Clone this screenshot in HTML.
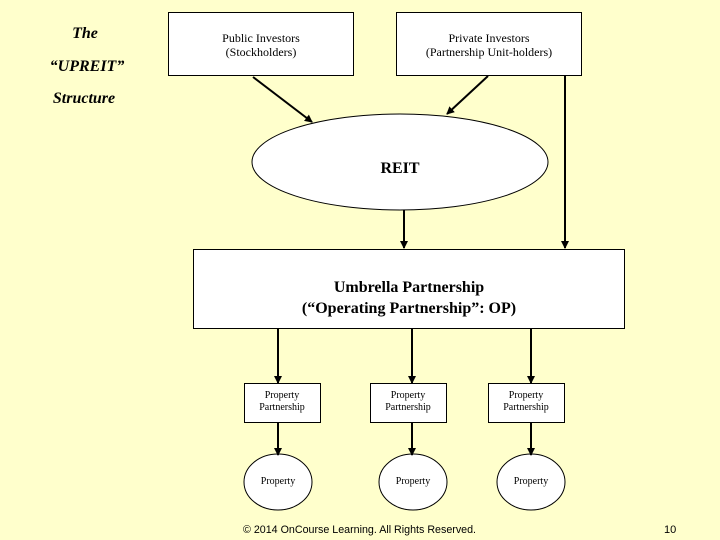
<!DOCTYPE html>
<html><head><meta charset="utf-8"><style>
html,body{margin:0;padding:0;background:#FFFFCC;}
svg{display:block}
</style></head><body>
<svg width="720" height="540" viewBox="0 0 720 540" xmlns="http://www.w3.org/2000/svg">
<defs>
<marker id="a" markerWidth="8" markerHeight="8" refX="7" refY="4" orient="auto" markerUnits="userSpaceOnUse">
<path d="M0,0 L8,4 L0,8 z" fill="#000"/>
</marker>
</defs>
<rect width="720" height="540" fill="#FFFFCC"/>
<g font-family="Liberation Serif, serif" font-weight="bold" font-style="italic" font-size="16" fill="#000" text-anchor="middle">
<text x="85" y="38">The</text>
<text x="87" y="71">“UPREIT”</text>
<text x="84" y="103">Structure</text>
</g>
<g fill="#fff" stroke="#000" stroke-width="1">
<rect x="168.5" y="12.5" width="185" height="63"/>
<rect x="396.5" y="12.5" width="185" height="63"/>
<ellipse cx="400" cy="162" rx="148" ry="48"/>
<rect x="193.5" y="249.5" width="431" height="79"/>
<rect x="244.5" y="383.5" width="76" height="39"/>
<rect x="370.5" y="383.5" width="76" height="39"/>
<rect x="488.5" y="383.5" width="76" height="39"/>
<ellipse cx="278" cy="482" rx="34" ry="28"/>
<ellipse cx="413" cy="482" rx="34" ry="28"/>
<ellipse cx="531" cy="482" rx="34" ry="28"/>
</g>
<g stroke="#000" stroke-width="2" marker-end="url(#a)" fill="none">
<line x1="253" y1="77" x2="312" y2="122"/>
<line x1="488" y1="76" x2="447" y2="114"/>
<line x1="565" y1="76" x2="565" y2="248"/>
<line x1="404" y1="210" x2="404" y2="248"/>
<line x1="278" y1="329" x2="278" y2="383"/>
<line x1="412" y1="329" x2="412" y2="383"/>
<line x1="531" y1="329" x2="531" y2="383"/>
<line x1="278" y1="423" x2="278" y2="455"/>
<line x1="412" y1="423" x2="412" y2="455"/>
<line x1="531" y1="423" x2="531" y2="455"/>
</g>
<g font-family="Liberation Serif, serif" font-size="12" fill="#000" text-anchor="middle">
<text x="261" y="42">Public Investors</text>
<text x="261" y="56">(Stockholders)</text>
<text x="489" y="42">Private Investors</text>
<text x="489" y="56">(Partnership Unit-holders)</text>
</g>
<text x="400" y="173" font-family="Liberation Serif, serif" font-size="16" font-weight="bold" text-anchor="middle">REIT</text>
<g font-family="Liberation Serif, serif" font-size="16" font-weight="bold" text-anchor="middle">
<text x="409" y="292">Umbrella Partnership</text>
<text x="409" y="313">(“Operating Partnership”: OP)</text>
</g>
<g font-family="Liberation Serif, serif" font-size="10" text-anchor="middle">
<text x="282" y="398">Property</text><text x="282" y="410">Partnership</text>
<text x="408" y="398">Property</text><text x="408" y="410">Partnership</text>
<text x="526" y="398">Property</text><text x="526" y="410">Partnership</text>
<text x="278" y="484">Property</text>
<text x="413" y="484">Property</text>
<text x="531" y="484">Property</text>
</g>
<text x="243" y="533" font-family="Liberation Sans, sans-serif" font-size="10.7" fill="#000">© 2014 OnCourse Learning. All Rights Reserved.</text>
<text x="664" y="533" font-family="Liberation Sans, sans-serif" font-size="11" fill="#000">10</text>
</svg>
</body></html>
